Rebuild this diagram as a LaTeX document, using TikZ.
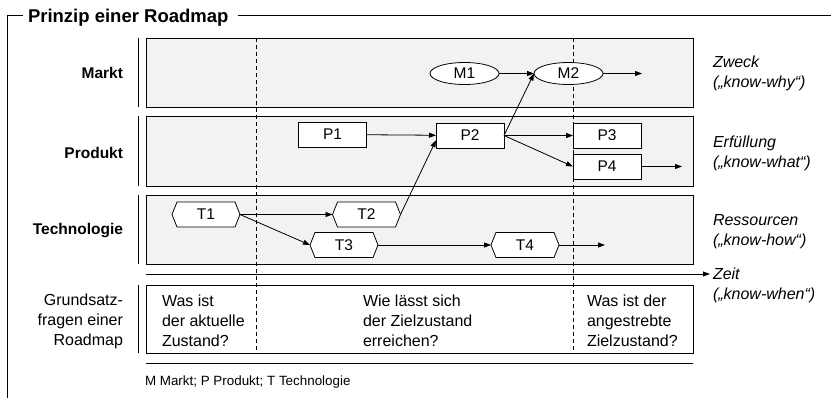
\documentclass[tikz,border=0pt]{standalone}
\usepackage{fontspec}
\setmainfont{Liberation Sans}
\usetikzlibrary{shapes.geometric,arrows.meta,calc}
\pgfdeclarelayer{bands}
\pgfdeclarelayer{shapes}
\pgfsetlayers{bands,shapes,main}
\definecolor{bandgray}{HTML}{F2F2F2}

\begin{document}
\begin{tikzpicture}[x=1pt,y=-1pt,
  every node/.style={inner sep=0pt, outer sep=0pt},
  txt/.style={font=\fontsize{16}{20}\selectfont},
  lbl/.style={font=\bfseries\fontsize{15.5}{19}\selectfont, anchor=east},
  note/.style={font=\itshape\fontsize{16}{20}\selectfont, anchor=west, align=left},
  band/.style={draw=black, line width=0.8pt, fill=bandgray},
  sep/.style={line width=0.8pt},
  phase/.style={line width=0.8pt, dash pattern=on 4pt off 3pt},
  flow/.style={line width=0.8pt, -{Triangle[length=7pt,width=5pt]}},
  elem/.style={font=\fontsize{15.5}{18}\selectfont, minimum width=68pt, minimum height=25pt},
  ovalbox/.style={elem, ellipse, draw, fill=white, line width=0.8pt, minimum width=69pt, minimum height=22pt},
  rectbox/.style={elem, draw, fill=white, line width=0.8pt},
  hexbox/.style={elem},
  ]
\useasboundingbox (0,0) rectangle (831,398);

% outer frame with title
\node[anchor=base west, inner xsep=5pt, font=\bfseries\fontsize{18.5}{22}\selectfont] (title) at (23,22.5) {Prinzip einer Roadmap};
\coordinate (ftl) at (7,15);
\coordinate (fbl) at (7,398);
\coordinate (ftr) at (831,15);
\draw[sep] (title.west |- ftl) -- (ftl) -- (fbl);
\draw[sep] ([xshift=5pt]title.east |- ftr) -- (ftr);

% bands
\begin{pgfonlayer}{bands}
\draw[band] (146,38) rectangle (693,107);
\draw[band] (146,116) rectangle (693,186);
\draw[band] (146,195) rectangle (693,264);
\draw[band, fill=white] (146,285) rectangle (693,353);
\draw[phase] (256,38) -- (256,353);
\draw[phase] (573,38) -- (573,353);
\end{pgfonlayer}
\draw[sep] (146,363) -- (693,363);

% left separators
\draw[sep] (138,38) -- (138,107);
\draw[sep] (138,116) -- (138,186);
\draw[sep] (138,195) -- (138,264);
\draw[sep] (138,285) -- (138,353);

% row labels
\node[lbl] (markt) at (123,73) {Markt};
\node[lbl] (produkt) at (123,153) {Produkt};
\node[lbl] (techno) at (123,231) {Technologie};
\node[txt, anchor=east, align=right] (fragen) at (123,321) {Grundsatz-\\fragen einer\\Roadmap};

% right notes
\node[note] (zweck) at (713,73) {Zweck\\(„know-why“)};
\node[note] (erf) at (713,153) {Erfüllung\\(„know-what“)};
\node[note] (ress) at (713,231.5) {Ressourcen\\(„know-how“)};
\node[note] (zeit) at (713,285) {Zeit\\(„know-when“)};

% time axis
\coordinate (tstart) at (146,274);
\draw[flow] (tstart) -- ([xshift=-3pt]zeit.west |- tstart);

% questions
\node[txt, anchor=west, align=left] (q1) at (162,321) {Was ist\\der aktuelle\\Zustand?};
\node[txt, anchor=west, align=left] (q2) at (363,321) {Wie lässt sich\\der Zielzustand\\erreichen?};
\node[txt, anchor=west, align=left] (q3) at (587,321) {Was ist der\\angestrebte\\Zielzustand?};

% legend
\node[font=\fontsize{13.4}{16}\selectfont, anchor=west] (legend) at (145,382) {M Markt; P Produkt; T Technologie};

% market
\node[ovalbox] (m1) at (464.5,73.5) {M1};
\node[ovalbox] (m2) at (568.5,73.5) {M2};
\coordinate (m2end) at (642,73.5);

% products
\node[rectbox] (p1) at (332.5,134.5) {P1};
\node[rectbox] (p2) at (470,135.5) {P2};
\node[rectbox] (p3) at (607,135.5) {P3};
\node[rectbox] (p4) at (607,166.5) {P4};
\coordinate (p4end) at (682,166.5);

% technologies
\node[hexbox] (t1) at (206,214.5) {T1};
\node[hexbox] (t2) at (366.5,214.5) {T2};
\node[hexbox] (t3) at (344,245) {T3};
\node[hexbox] (t4) at (525,245) {T4};
\coordinate (t4end) at (605,245);
\begin{pgfonlayer}{shapes}
\foreach \n in {t1,t2,t3,t4}
  \draw[line width=0.8pt, fill=white] (\n.west) -- ([xshift=5pt]\n.north west) -- ([xshift=-5pt]\n.north east)
    -- (\n.east) -- ([xshift=-5pt]\n.south east) -- ([xshift=5pt]\n.south west) -- cycle;
\end{pgfonlayer}

% connections
\draw[flow] (m1) -- (m2);
\draw[flow] (m2) -- (m2end);
\draw[flow] (p1) -- (p2);
\draw[flow] (p2.east) -- (p3.west);
\draw[flow] (p2.east) -- (p4.west);
\draw[flow] (p2.east) -- (m2.west);
\draw[flow] (p4) -- (p4end);
\draw[flow] (t1.east) -- (t2.west);
\draw[flow] (t1.east) -- (t3.west);
\draw[flow] (t3.east) -- (t4.west);
\draw[flow] (t4.east) -- (t4end);
\draw[flow] (t2.east) -- (p2.188);
\end{tikzpicture}
\end{document}
